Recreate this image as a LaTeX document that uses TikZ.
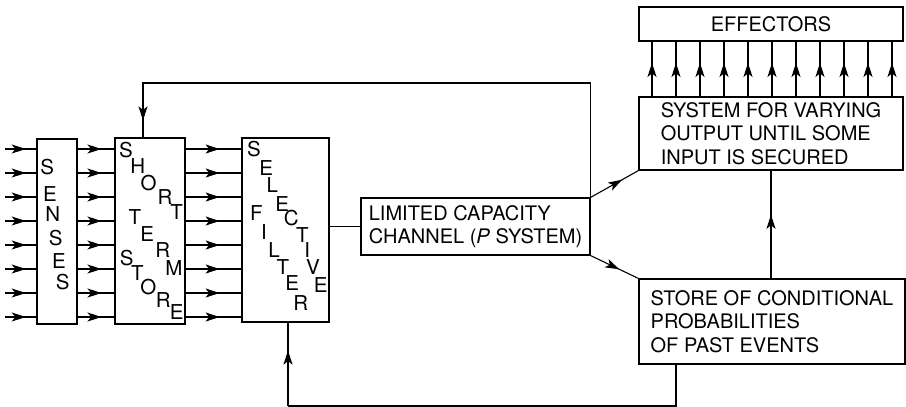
\documentclass[tikz,border=0pt]{standalone}
\usepackage{fontspec}
\setmainfont{TeX Gyre Heros}
\usetikzlibrary{arrows.meta,decorations.markings}
\begin{document}
\begin{tikzpicture}[x=1pt,y=-1pt,
  every node/.style={font=\fontsize{20}{23.4}\selectfont},
  box/.style={draw,line width=1.1pt,rectangle,inner sep=0pt,align=left},
  ltr/.style={inner sep=-1.2pt,font=\fontsize{20.5}{24}\selectfont},
  ln/.style={line width=1.1pt},
  midarr/.style={line width=1.1pt,postaction={decorate},decoration={markings,mark=at position #1 with {\arrow{Stealth[length=14pt,width=9pt,inset=3.5pt]}}}}
]
\useasboundingbox (0,0) rectangle (906,407);
% boxes
\node[box,minimum width=40pt,minimum height=185pt] (senses) at (57,231.5) {};
\node[box,minimum width=70pt,minimum height=186pt] (sts) at (150,231) {};
\node[box,minimum width=87pt,minimum height=184pt] (sf) at (285.5,230) {};
\node[box,minimum width=229pt,minimum height=57pt] (chan) at (475.5,226.5) {LIMITED CAPACITY\\CHANNEL (\textit{P} SYSTEM)};
\node[box,minimum width=264pt,minimum height=73pt] (sys) at (771,133.5) {SYSTEM FOR VARYING\\OUTPUT UNTIL SOME\\INPUT IS SECURED};
\node[box,minimum width=264pt,minimum height=34pt] (eff) at (771,24) {EFFECTORS};
\node[box,minimum width=266pt,minimum height=85pt] (store) at (772,321.5) {STORE OF CONDITIONAL\\PROBABILITIES\\OF PAST EVENTS};
% letters
\foreach \l/\x/\y [count=\i] in {S/47.3/167.3,E/50/194.3,N/52.7/214.3,S/55.7/237.7,E/59/261,S/62.7/281.7}
  \node[ltr] (sen\i) at (\x,\y) {\l};
\foreach \l/\x/\y [count=\i] in {S/126/150,H/137.7/165.7,O/148.7/183.3,R/165/196.7,T/176.7/212.3,T/135/216.7,E/147.3/234,R/162.7/250,M/174/268.3,S/126.7/258.3,T/137.3/273.3,O/148.3/286.7,R/163.3/300,E/176.7/311.7}
  \node[ltr] (st\i) at (\x,\y) {\l};
\foreach \l/\x/\y [count=\i] in {S/254/149,E/266.3/168.3,L/272.3/185,E/282.3/204.3,C/291.3/218.3,T/302.3/235,I/307.3/250,V/313/266.7,E/320.7/285,F/256.3/213.3,I/264/231.7,L/274/250,T/283/266.7,E/292.3/283.3,R/300.7/303.3}
  \node[ltr] (sel\i) at (\x,\y) {\l};
% input rows
\foreach \i in {0,...,7} {
  \coordinate (in\i) at (5,149+24*\i);
  \draw[midarr=0.66] (in\i) -- (senses.west |- in\i);
  \draw[midarr=0.65] (senses.east |- in\i) -- (sts.west |- in\i);
  \draw[midarr=0.61] (sts.east |- in\i) -- (sf.west |- in\i);
}
% filter to channel
\draw[ln] (sf.east |- chan.west) -- (chan.west);
% channel to system and store
\draw[midarr=0.66] (chan.north east) -- (sys.south west);
\draw[midarr=0.6] (chan.south east) -- (store.north west);
% effector arrows
\foreach \i in {0,...,10} {
  \coordinate (ex\i) at (652+24*\i,0);
  \draw[midarr=0.61] (sys.north -| ex\i) -- (eff.south -| ex\i);
}
% store to system
\coordinate (sx) at (771,0);
\draw[midarr=0.59] (store.north -| sx) -- (sys.south -| sx);
% top feedback
\coordinate (tf) at (143,83);
\draw[midarr=-17pt] (chan.north east) |- (tf) -- (sts.north -| tf);
% bottom feedback
\coordinate (bx) at (676,0);
\coordinate (fb) at (288,406);
\draw[ln] (store.south -| bx) |- (fb);
\draw[midarr=-28pt] (fb) -- (sf.south -| fb);
\end{tikzpicture}
\end{document}
